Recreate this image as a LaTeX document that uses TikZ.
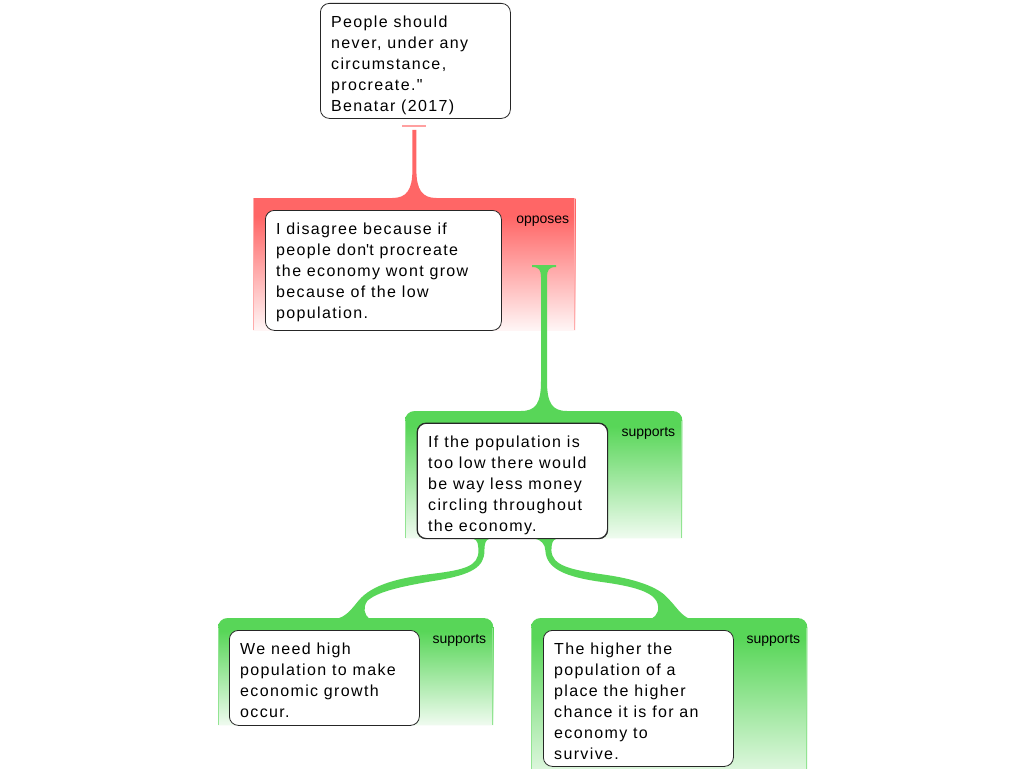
\documentclass[tikz,border=0pt]{standalone}
\usepackage{fontspec}
\setmainfont{Liberation Sans}
\newfontfamily\boxfont{Liberation Sans}[LetterSpace=8.5]
\usetikzlibrary{calc}
\definecolor{G}{RGB}{88,214,88}
\definecolor{R}{RGB}{255,102,102}
\definecolor{Gbot}{RGB}{240,251,240}
\definecolor{Rbot}{RGB}{255,246,246}
\definecolor{Rbar}{RGB}{255,160,160}
\pgfdeclareverticalshading{gband}{100bp}{color(0bp)=(Gbot); color(25bp)=(Gbot); color(69bp)=(G); color(100bp)=(G)}
\pgfdeclareverticalshading{rband}{100bp}{color(0bp)=(Rbot); color(25bp)=(Rbot); color(68bp)=(R); color(100bp)=(R)}
\tikzset{
  box/.style={draw=black!85, line width=0.8pt, fill=white, rounded corners=9pt, anchor=north west, inner sep=0pt},
  txt/.style={anchor=north west, inner sep=0pt, align=left, font=\boxfont\fontsize{16}{21}\selectfont},
  lbl/.style={anchor=base east, inner sep=0pt, font=\fontsize{14}{16}\selectfont},
  bandst/.style={anchor=north west, inner sep=0pt},
  gedge/.style={draw=G!65, line width=1pt},
  redge/.style={draw=R!55, line width=1pt},
}
\begin{document}
\begin{tikzpicture}[x=1pt,y=-1pt]
\fill[white] (0,0) rectangle (1024,768);
\useasboundingbox (0,0) rectangle (1024,768);

% bands (named areas)
\node[bandst, minimum width=322pt, minimum height=132pt] (b1) at (253,198) {};
\node[bandst, minimum width=277pt, minimum height=127pt] (b2) at (405,411) {};
\node[bandst, minimum width=275pt, minimum height=107pt] (b3) at (218,618) {};
\node[bandst, minimum width=276pt, minimum height=170pt] (b4) at (531,618) {};

\shade[shading=rband] (b1.north west) rectangle (b1.south east);
\draw[redge] ($(b1.north west)+(0.5,0)$) -- ($(b1.south west)+(0.5,0)$);
\draw[redge] ($(b1.north east)+(-0.5,0)$) -- ($(b1.south east)+(-0.5,0)$);
\foreach \b in {b2,b3,b4}{
  \shade[shading=gband] (\b.south west) -- ($(\b.north west)+(0,10)$) .. controls ($(\b.north west)+(0,4)$) and ($(\b.north west)+(4,0)$) .. ($(\b.north west)+(10,0)$)
    -- ($(\b.north east)+(-10,0)$) .. controls ($(\b.north east)+(-4,0)$) and ($(\b.north east)+(0,4)$) .. ($(\b.north east)+(0,10)$)
    -- (\b.south east) -- cycle;
  \draw[gedge] ($(\b.north west)+(0.5,10)$) -- ($(\b.south west)+(0.5,0)$);
  \draw[gedge] ($(\b.north east)+(-0.5,10)$) -- ($(\b.south east)+(-0.5,0)$);
}

% boxes
\node[box, minimum width=190pt, minimum height=115pt] (n1) at (320,3) {};
\node[box, minimum width=236pt, minimum height=120pt] (n2) at (265,210) {};
\node[box, minimum width=190pt, minimum height=115pt] (n3) at (417,423) {};
\node[box, minimum width=190pt, minimum height=95pt] (n4) at (229,630) {};
\node[box, minimum width=190pt, minimum height=136pt] (n5) at (543,630) {};

% red connector n1 -> b1
\coordinate (r1s) at ($(n1.south)+(-1,11)$);
\coordinate (r1e) at (b1.north -| r1s);
\fill[Rbar] ($(n1.south)+(-13,6)$) rectangle ($(n1.south)+(11,8)$);
\fill[R] ($(r1s)+(-2,0)$) -- ($(r1e)+(-2,-28)$) .. controls ($(r1e)+(-2,-8)$) and ($(r1e)+(-8,0)$) .. ($(r1e)+(-22,0)$)
  -- ($(r1e)+(22,0)$) .. controls ($(r1e)+(8,0)$) and ($(r1e)+(2,-8)$) .. ($(r1e)+(2,-28)$) -- ($(r1s)+(2,0)$) -- cycle;

% green connector b2 -> b1
\coordinate (g1e) at ($(b2.north west)+(139,0)$);
\coordinate (g1s) at ($(g1e)+(0,-146)$);
\fill[G] ($(g1s)+(-12,0)$) -- ($(g1s)+(12,0)$) -- ($(g1s)+(12,2)$) .. controls ($(g1s)+(5,2)$) and ($(g1s)+(3,5)$) .. ($(g1s)+(3,12)$)
  -- ($(g1e)+(3,-30)$) .. controls ($(g1e)+(3,-8)$) and ($(g1e)+(8,0)$) .. ($(g1e)+(23,0)$)
  -- ($(g1e)+(-23,0)$) .. controls ($(g1e)+(-8,0)$) and ($(g1e)+(-3,-8)$) .. ($(g1e)+(-3,-30)$)
  -- ($(g1s)+(-3,12)$) .. controls ($(g1s)+(-3,5)$) and ($(g1s)+(-5,2)$) .. ($(g1s)+(-12,2)$) -- cycle;

% lower connectors n3 -> b3, n3 -> b4
\coordinate (g2s) at ($(n3.south)+(-31,0)$);
\coordinate (g3s) at ($(n3.south)+(33,0)$);
\begin{scope}[shift={(g2s)}]
\fill[G] (-8,0) .. controls (-4,1) and (-3,5) .. (-3,12)
  .. controls (-3,27) and (-16,31) .. (-49,35)
  .. controls (-81,39) and (-109,45) .. (-123,62)
  .. controls (-131,72) and (-136,78) .. (-145,80)
  -- (-112,80)
  .. controls (-117,76) and (-119,69) .. (-114,62)
  .. controls (-103,52) and (-76,47) .. (-47,42)
  .. controls (-9,36) and (3,28) .. (3,12)
  .. controls (3,5) and (4,1) .. (8,0) -- cycle;
\end{scope}
\begin{scope}[shift={(g3s)}]
\fill[G] (-10,0) .. controls (-5,1) and (0,5) .. (0,12)
  .. controls (1,30) and (20,38) .. (55,43)
  .. controls (85,47) and (105,52) .. (111,62)
  .. controls (115,70) and (112,77) .. (106,80)
  -- (144,80)
  .. controls (135,76) and (131,68) .. (123,60)
  .. controls (115,50) and (95,41) .. (60,36)
  .. controls (25,31) and (7,27) .. (6,12)
  .. controls (6,5) and (7,1) .. (11,0) -- cycle;
\end{scope}

% border of n3 over the connector ends
\draw[black!85, line width=0.8pt, rounded corners=9pt] (n3.north west) rectangle (n3.south east);

% texts
\node[txt] (t1) at ($(n1.north west)+(11,12)$) {\rule{0pt}{12pt}People should\\never, under any\\circumstance,\\procreate."\\Benatar (2017)};
\node[txt] (t2) at ($(n2.north west)+(11,12)$) {\rule{0pt}{12pt}I disagree because if\\people don\textquotesingle t procreate\\the economy wont grow\\because of the low\\population.};
\node[txt] (t3) at ($(n3.north west)+(11,12)$) {\rule{0pt}{12pt}If the population is\\too low there would\\be way less money\\circling throughout\\the economy.};
\node[txt] (t4) at ($(n4.north west)+(11,12)$) {\rule{0pt}{12pt}We need high\\population to make\\economic growth\\occur.};
\node[txt] (t5) at ($(n5.north west)+(11,12)$) {\rule{0pt}{12pt}The higher the\\population of a\\place the higher\\chance it is for an\\economy to\\survive.};

% labels
\node[lbl] (l1) at ($(b1.north east)+(-6,25)$) {opposes};
\node[lbl] (l2) at ($(b2.north east)+(-7,25)$) {supports};
\node[lbl] (l3) at ($(b3.north east)+(-7,25)$) {supports};
\node[lbl] (l4) at ($(b4.north east)+(-7,25)$) {supports};
\end{tikzpicture}
\end{document}
